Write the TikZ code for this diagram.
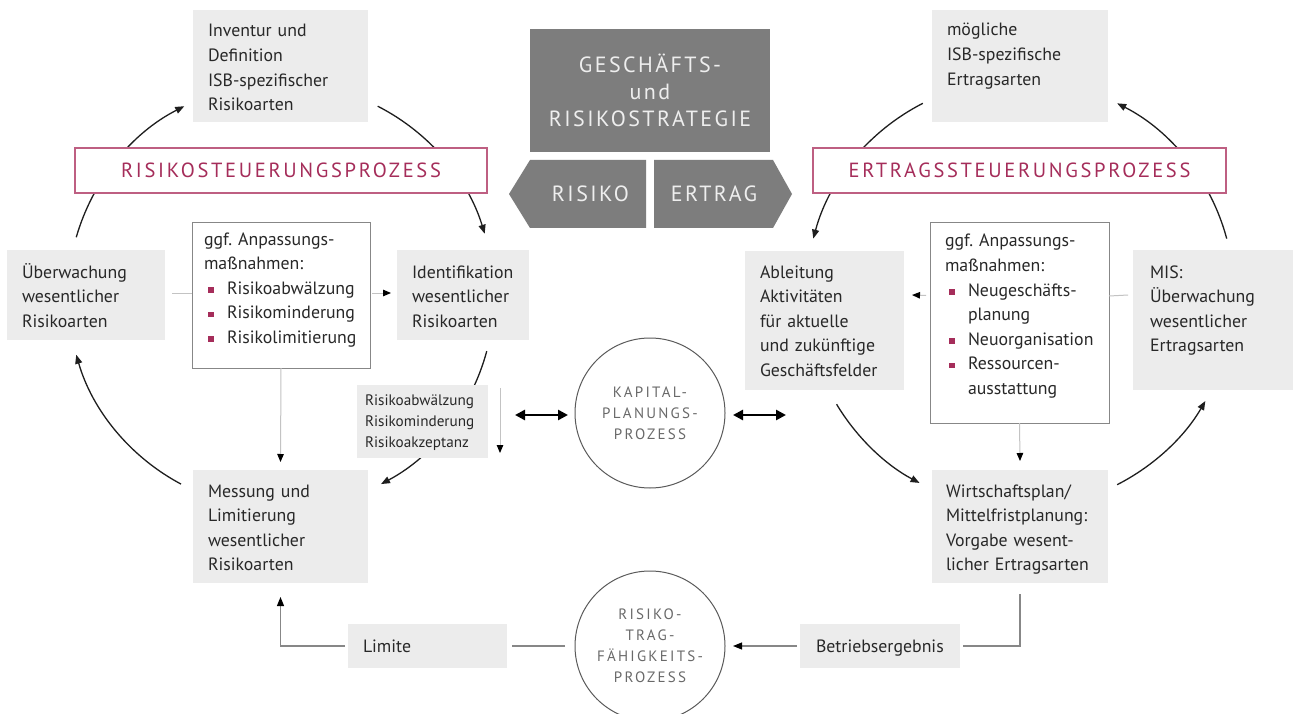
\documentclass[tikz,border=0pt]{standalone}
\usepackage{fontspec}
\setmainfont{PT Sans}
\usetikzlibrary{arrows.meta,calc}
\definecolor{boxg}{RGB}{236,236,236}
\definecolor{darkbox}{RGB}{125,125,125}
\definecolor{stxt}{RGB}{238,238,238}
\definecolor{crim}{RGB}{165,45,90}
\definecolor{crimb}{RGB}{190,95,130}
\definecolor{txt}{RGB}{40,40,40}
\definecolor{lgray}{RGB}{195,195,195}
\definecolor{mgray}{RGB}{135,135,135}
\definecolor{cgray}{RGB}{90,90,90}
\definecolor{ctxt}{RGB}{105,105,105}
\definecolor{ringc}{RGB}{30,30,30}
\newcommand{\bul}{\makebox[23pt][l]{\hspace{4pt}\textcolor{crim}{\rule[1.5pt]{5.5pt}{5.5pt}}}}
\frenchspacing
\begin{document}
\begin{tikzpicture}[x=1pt,y=-1pt,
 every node/.style={inner sep=0pt,outer sep=0pt},
 gbox/.style={fill=boxg,anchor=north west},
 wbox/.style={fill=white,draw=mgray,line width=0.9pt,anchor=north west},
 body/.style={anchor=base west,align=left,text width=175pt,text=txt,font=\fontsize{17.8}{24.6}\selectfont},
 smallbody/.style={body,font=\fontsize{15.2}{21}\selectfont},
 head/.style={draw=crimb,fill=white,line width=1.1pt,minimum width=412pt,minimum height=45pt,text=crim,font=\fontsize{20.5}{22}\selectfont\addfontfeature{LetterSpace=13}},
 strat/.style={fill=darkbox,text=stxt,align=center,minimum width=240pt,minimum height=123pt,font=\fontsize{22}{27}\selectfont\addfontfeature{LetterSpace=11}},
 circ/.style={circle,draw=cgray,line width=1pt,minimum size=150pt,align=center,text=ctxt,font=\fontsize{15}{21}\selectfont\addfontfeature{LetterSpace=15}},
 hex/.style={text=stxt,font=\fontsize{22}{25}\selectfont\addfontfeature{LetterSpace=11}},
 ring/.style={draw=ringc,line width=1.3pt,-{Triangle[length=9pt,width=7pt]}},
 feed/.style={draw=lgray,line width=1pt,-{Triangle[length=8pt,width=6.5pt,color=black]}},
 plain/.style={draw=lgray,line width=1pt},
 loopl/.style={draw=mgray,line width=1.1pt},
 loopa/.style={loopl,-{Triangle[length=9pt,width=7pt,color=black]}},
 both/.style={draw=black,line width=2.6pt,{Triangle[length=10pt,width=10pt]}-{Triangle[length=10pt,width=10pt]}}
]
\useasboundingbox (0,0) rectangle (1293,714);
\clip (0,0) rectangle (1293,714);
\fill[white] (0,0) rectangle (1293,714);

% ring arcs
\coordinate (lc) at (281,296);
\coordinate (rc) at (1020,294);
\draw[ring] ($(lc)+(-164:213)$) arc[start angle=-164,end angle=-117,radius=213];
\draw[ring] ($(lc)+(-63:213)$) arc[start angle=-63,end angle=-17,radius=213];
\draw[ring] ($(lc)+(15:213)$) arc[start angle=15,end angle=62,radius=213];
\draw[ring] ($(lc)+(118:213)$) arc[start angle=118,end angle=164,radius=213];
\draw[ring] ($(rc)+(-117:214)$) arc[start angle=-117,end angle=-165,radius=214];
\draw[ring] ($(rc)+(149:214)$) arc[start angle=149,end angle=118,radius=214];
\draw[ring] ($(rc)+(63:214)$) arc[start angle=63,end angle=30,radius=214];
\draw[ring] ($(rc)+(-15:214)$) arc[start angle=-15,end angle=-63,radius=214];

% boxes
\node[gbox,minimum width=175pt,minimum height=112pt] (inv) at (193,10) {};
\node[gbox,minimum width=176pt,minimum height=112pt] (moeg) at (932,10) {};
\node[gbox,minimum width=158pt,minimum height=90pt] (ueb) at (7,250) {};
\node[gbox,minimum width=132pt,minimum height=90pt] (ident) at (397,250) {};
\node[wbox,minimum width=178pt,minimum height=146pt] (gggl) at (192,222) {};
\node[gbox,minimum width=131pt,minimum height=73pt] (small) at (357,385) {};
\node[gbox,minimum width=175pt,minimum height=113pt] (mess) at (193,470) {};
\node[gbox,minimum width=159pt,minimum height=44pt] (limite) at (348,624) {};
\node[gbox,minimum width=160pt,minimum height=44pt] (betr) at (800,624) {};
\node[gbox,minimum width=176pt,minimum height=113pt] (wirt) at (932,470) {};
\node[wbox,minimum width=179pt,minimum height=201pt] (gggr) at (930,222) {};
\node[gbox,minimum width=159pt,minimum height=139pt] (ableit) at (745,251) {};
\node[gbox,minimum width=162pt,minimum height=140pt] (mis) at (1133,250) {};

% headings
\node[head] (rhead) at (281,170.5) {RISIKOSTEUERUNGSPROZESS};
\node[head,minimum width=413pt] (ehead) at (1019.5,170.5) {ERTRAGSSTEUERUNGSPROZESS};
\node[strat] (strat) at (650,90.5) {GESCHÄFTS-\\und\\RISIKOSTRATEGIE};
\fill[darkbox] (530,160) -- (646,160) -- (646,228) -- (530,228) -- (509,194) -- cycle;
\fill[darkbox] (654,160) -- (773,160) -- (792,194) -- (773,228) -- (654,228) -- cycle;
\node[hex] (risk) at (590.5,194) {RISIKO};
\node[hex] (ertr) at (714,194) {ERTRAG};

% circles
\node[circ] (kap) at (650,413) {KAPITAL-\\PLANUNGS-\\PROZESS};
\node[circ] (rtf) at (650,646) {RISIKO-\\TRAG-\\FÄHIGKEITS-\\PROZESS};

% texts
\node[body] (invt) at (208,37) {Inventur und\\Definition\\ISB-spezifischer\\Risikoarten};
\node[body] (moegt) at (947,36) {mögliche\\ISB-spezifische\\Ertragsarten};
\node[body] (uebt) at (22,278) {Überwachung\\wesentlicher\\Risikoarten};
\node[body] (identt) at (412,278) {Identifikation\\wesentlicher\\Risikoarten};
\node[body] (gggltext) at (204,245) {ggf. Anpassungs-\\maßnahmen:\\\bul Risikoabwälzung\\\bul Risikominderung\\\bul Risikolimitierung};
\node[smallbody] (smallt) at (365,405) {Risikoabwälzung\\Risikominderung\\Risikoakzeptanz};
\node[body] (messt) at (208,497) {Messung und\\Limitierung\\wesentlicher\\Risikoarten};
\node[body] (limitet) at (363,652) {Limite};
\node[body] (betrt) at (816,652) {Betriebsergebnis};
\node[body] (wirtt) at (946,497) {Wirtschaftsplan/\\Mittelfristplanung:\\Vorgabe wesent-\\licher Ertragsarten};
\node[body] (gggrtext) at (945,247) {ggf. Anpassungs-\\maßnahmen:\\\bul Neugeschäfts-\\\hspace*{23pt}planung\\\bul Neuorganisation\\\bul Ressourcen-\\\hspace*{23pt}ausstattung};
\node[body] (ableitt) at (760,278) {Ableitung\\Aktivitäten\\für aktuelle\\und zukünftige\\Geschäftsfelder};
\node[body] (mist) at (1150,278) {MIS:\\Überwachung\\wesentlicher\\Ertragsarten};

% feedback connectors
\draw[plain] ($(ueb.east)+(7,-2)$) -- ($(gggl.west)+(0,-2)$);
\draw[feed] ($(gggl.east)+(2,-2)$) -- ($(ident.west)+(-6,-2)$);
\draw[feed] (gggl.south) -- ($(mess.north)+(0,-8)$);
\draw[feed] ($(small.north east)+(12,3)$) -- ($(small.south east)+(12,-5)$);
\draw[plain] ($(mis.west)+(-5,-25)$) -- ($(gggr.east)+(0,-26.5)$);
\draw[feed] ($(gggr.west)+(-4,-27)$) -- ($(ableit.east)+(8,-25.5)$);
\draw[feed] (gggr.south) -- ($(wirt.north)+(0,-9)$);

% bottom loop
\draw[loopl] ($(wirt.south)+(0,11)$) |- ($(betr.east)+(3,0)$);
\draw[loopa] ($(betr.west)+(-3,0)$) -- ($(rtf.east |- betr.west)+(8,0)$);
\draw[loopl] ($(rtf.west |- limite.east)+(-10,0)$) -- ($(limite.east)+(5,0)$);
\draw[loopa] ($(limite.west)+(-3,0)$) -| ($(mess.south)+(0,14)$);

% capital planning links
\draw[both] ($(kap.west)+(-60,2)$) -- ($(kap.west)+(-7,2)$);
\draw[both] ($(kap.east)+(8,2)$) -- ($(kap.east)+(61,2)$);
\end{tikzpicture}
\end{document}
